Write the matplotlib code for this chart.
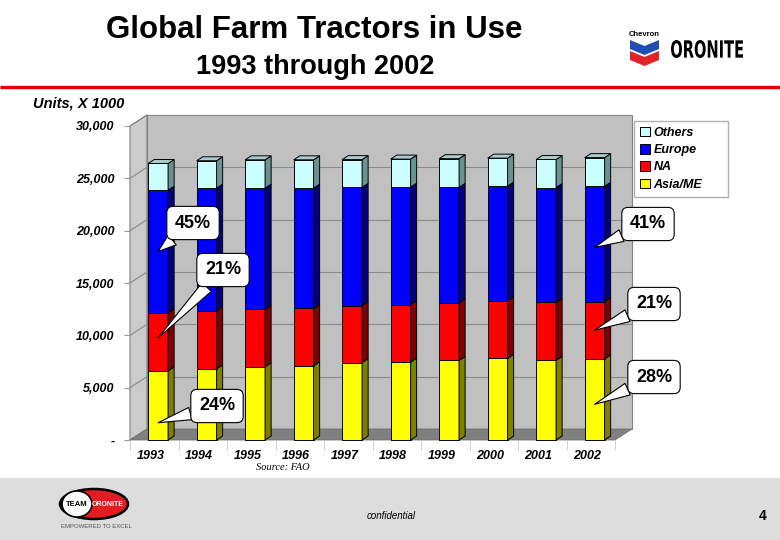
import numpy as np
import matplotlib
matplotlib.use('Agg')
import matplotlib.pyplot as plt
from matplotlib.patches import Polygon, Rectangle, Ellipse, Patch, PathPatch
from matplotlib.textpath import TextPath
from matplotlib.font_manager import FontProperties
from matplotlib.transforms import Affine2D

plt.rcParams['font.family'] = ['Liberation Sans', 'DejaVu Sans']

# data (units x 1000)
years = ['1993', '1994', '1995', '1996', '1997', '1998', '1999', '2000', '2001', '2002']
asia = [6600, 6800, 7000, 7100, 7400, 7450, 7600, 7800, 7600, 7750]
na = [5550, 5550, 5500, 5500, 5450, 5480, 5500, 5500, 5550, 5480]
europe = [11720, 11720, 11560, 11460, 11290, 11230, 11040, 10960, 10970, 11010]
others = [2550, 2610, 2710, 2710, 2650, 2680, 2740, 2670, 2680, 2740]

series = ['Asia/ME', 'NA', 'Europe', 'Others']
front_cols = ['#ffff00', '#ff0000', '#0000ff', '#ccffff']
side_cols = ['#808000', '#800000', '#000080', '#6a9292']
top_col = '#a8cccc'

yticks = [0, 5000, 10000, 15000, 20000, 25000, 30000]
ytick_labels = ['-', '5,000', '10,000', '15,000', '20,000', '25,000', '30,000']

# callouts: text, year index, series index, fraction up the segment
callouts = [('45%', 0, 2, 0.5), ('21%', 0, 1, 0.57), ('24%', 0, 0, 0.25),
            ('41%', 9, 2, 0.47), ('21%', 9, 1, 0.5), ('28%', 9, 0, 0.44)]
callout_pos = [(193, 223), (223, 270), (217, 406), (648, 224), (654, 304), (654, 377)]

W, H = 780, 540
fig = plt.figure(figsize=(7.8, 5.4), dpi=100)
fig.patch.set_facecolor('white')

# decoration layer in pixel coordinates
deco = fig.add_axes([0, 0, 1, 1], zorder=0)
deco.set_xlim(0, W)
deco.set_ylim(H, 0)
deco.axis('off')

deco.add_patch(Rectangle((0, 478), W, 62, fc='#dddddd', ec='none'))
deco.plot([0, W], [87, 87], color='#e00000', lw=2.4, solid_capstyle='butt')
deco.text(314, 30, 'Global Farm Tractors in Use', ha='center', va='center',
          fontsize=22.5, weight='bold')
deco.text(315, 67, '1993 through 2002', ha='center', va='center',
          fontsize=19.5, weight='bold')
deco.text(33, 104, 'Units, X 1000', ha='left', va='center', fontsize=10.5,
          weight='bold', style='italic')
deco.text(283, 468, 'Source: FAO', ha='center', va='center', fontsize=7.5,
          family=['Liberation Serif', 'DejaVu Serif'], style='italic')

# chevron logo
deco.text(644.5, 35, 'Chevron', ha='center', va='center', fontsize=5.5, weight='bold')
deco.add_patch(Polygon([(630, 40), (644.5, 46), (659, 40), (659, 49), (644.5, 55), (630, 49)],
                       closed=True, fc='#1f4fb4', ec='none'))
deco.add_patch(Polygon([(630, 51), (644.5, 57), (659, 51), (659, 60), (644.5, 66), (630, 60)],
                       closed=True, fc='#e2232a', ec='none'))
tp = TextPath((0, 0), 'ORONITE', size=1, prop=FontProperties(family='DejaVu Sans', weight='bold'))
ext = tp.get_extents()
sx, sy = 72 / ext.width, 18 / ext.height
tr = Affine2D().translate(-ext.x0, -ext.y0).scale(sx, -sy).translate(671, 58)
deco.add_patch(PathPatch(tr.transform_path(tp), fc='black', ec='none'))

# team oronite logo
deco.add_patch(Ellipse((94, 504), 68, 30, fc='#e31b23', ec='black', lw=1.8))
deco.add_patch(Ellipse((77, 504), 30, 26, fc='white', ec='black', lw=1.2))
deco.text(77, 504, 'TEAM', ha='center', va='center', fontsize=5.5, weight='bold')
deco.text(108, 504, 'ORONITE', ha='center', va='center', fontsize=5, weight='bold', color='white')
deco.text(96, 526, 'EMPOWERED TO EXCEL', ha='center', va='center', fontsize=4.3, color='#555555')
deco.text(391, 516, 'confidential', ha='center', va='center', fontsize=7, style='italic')
deco.text(763, 516, '4', ha='center', va='center', fontsize=10, weight='bold')

# chart axes: front plane of the 3D box
ax = fig.add_axes([130 / W, 100 / H, 485 / W, 314 / H], zorder=1)
ax.patch.set_visible(False)
for s in ax.spines.values():
    s.set_visible(False)
n = len(years)
ax.set_xlim(-0.5, n - 0.5)
ax.set_ylim(0, 30000)

ddx, ddy = 0.35, 1050      # wall depth
bdx, bdy = 0.125, 380      # bar depth

ax.add_patch(Rectangle((-0.5 + ddx, ddy), n, 30000, fc='#c0c0c0', ec='#808080',
                       lw=0.8, zorder=0, clip_on=False))
ax.add_patch(Polygon([(-0.5, 0), (-0.5 + ddx, ddy), (-0.5 + ddx, 30000 + ddy), (-0.5, 30000)],
                     closed=True, fc='#cbcbcb', ec='#808080', lw=0.8, zorder=0, clip_on=False))
ax.add_patch(Polygon([(-0.5, 0), (n - 0.5, 0), (n - 0.5 + ddx, ddy), (-0.5 + ddx, ddy)],
                     closed=True, fc='#808080', ec='#707070', lw=0.6, zorder=0.5, clip_on=False))
for v in yticks[1:]:
    ax.plot([-0.5 + ddx, n - 0.5 + ddx], [v + ddy, v + ddy], color='#8a8a8a', lw=0.8,
            zorder=0.2, clip_on=False)
    ax.plot([-0.5, -0.5 + ddx], [v, v + ddy], color='#8a8a8a', lw=0.8, zorder=0.2, clip_on=False)

x = np.arange(n)
xb = x + 0.08
bw = 0.41
data = [asia, na, europe, others]
bottom = np.zeros(n)
for k, vals in enumerate(data):
    vals = np.array(vals, dtype=float)
    ax.bar(xb, vals, width=bw, bottom=bottom, color=front_cols[k], edgecolor='black',
           lw=0.7, zorder=3, clip_on=False)
    for i in range(n):
        x1 = xb[i] + bw / 2
        b, t = bottom[i], bottom[i] + vals[i]
        ax.add_patch(Polygon([(x1, b), (x1 + bdx, b + bdy), (x1 + bdx, t + bdy), (x1, t)],
                             closed=True, fc=side_cols[k], ec='black', lw=0.7, zorder=3,
                             clip_on=False))
        if k == len(data) - 1:
            x0 = xb[i] - bw / 2
            ax.add_patch(Polygon([(x0, t), (x0 + bdx, t + bdy), (x1 + bdx, t + bdy), (x1, t)],
                                 closed=True, fc=top_col, ec='black', lw=0.7, zorder=3,
                                 clip_on=False))
    bottom = bottom + vals

ax.set_yticks(yticks)
ax.set_yticklabels(ytick_labels, fontsize=9, weight='bold', style='italic')
ax.tick_params(axis='y', length=4, color='#999999', pad=7)
ax.set_xticks(x - 0.08)
ax.set_xticklabels(years, fontsize=9, weight='bold', style='italic')
ax.tick_params(axis='x', length=0, pad=7)
ax.set_xticks(np.arange(-0.5, n, 1), minor=True)
ax.tick_params(axis='x', which='minor', length=7, color='#c8c8c8')

# callouts
cum = np.cumsum(np.array(data, dtype=float), axis=0)
for (txt, i, k, f), (px, py) in zip(callouts, callout_pos):
    base = cum[k - 1][i] if k > 0 else 0.0
    ty = base + f * data[k][i]
    ax.annotate(txt, xy=(xb[i], ty), xycoords='data',
                xytext=(px / W, 1 - py / H), textcoords='figure fraction',
                ha='center', va='center', fontsize=13, weight='bold', zorder=6,
                annotation_clip=False,
                bbox=dict(boxstyle='round,pad=0.45,rounding_size=0.35', fc='white',
                          ec='black', lw=0.8),
                arrowprops=dict(arrowstyle='wedge,tail_width=0.7', fc='white', ec='black',
                                lw=0.8, shrinkA=0, shrinkB=0))

handles = [Patch(fc=front_cols[k], ec='black', lw=0.7) for k in [3, 2, 1, 0]]
labels = [series[k] for k in [3, 2, 1, 0]]
fig.legend(handles, labels, loc='upper left',
           bbox_to_anchor=(634 / W, 1 - 195 / H, 94 / W, 74 / H), mode='expand',
           frameon=True, fancybox=False, edgecolor='#b0b0b0', framealpha=1,
           prop=dict(size=9, weight='bold', style='italic'),
           handlelength=0.8, handleheight=0.8, handletextpad=0.3,
           labelspacing=0.42, borderpad=0.45, borderaxespad=0)

fig.savefig('out.png', dpi=100)
